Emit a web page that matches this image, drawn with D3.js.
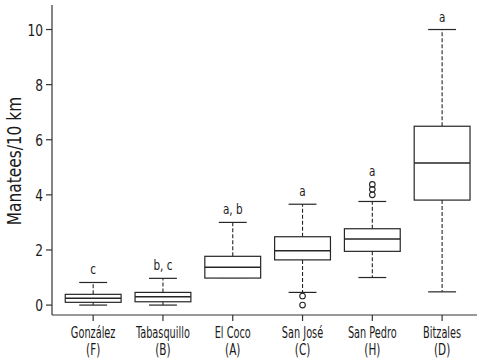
<!DOCTYPE html>
<html><head><meta charset="utf-8">
<script src="https://cdn.jsdelivr.net/npm/d3@7"></script>
<style>
body{margin:0;background:#fff;}
text{font-family:"DejaVu Sans Condensed","DejaVu Sans","Noto Sans",sans-serif;fill:#1a1a1a;}
</style></head>
<body><svg id="c" width="484" height="362"></svg>
<script>
const sites = ["González","Tabasquillo","El Coco","San José","San Pedro","Bitzales"];
const codes = ["(F)","(B)","(A)","(C)","(H)","(D)"];
const groups = ["c","b, c","a, b","a","a","a"];
const lowerWhisker = [0, 0, 1.0, 0.46, 1.0, 0.48];
const q1 = [0.10, 0.12, 0.98, 1.64, 1.95, 3.81];
const median = [0.25, 0.30, 1.37, 1.97, 2.40, 5.16];
const q3 = [0.39, 0.46, 1.77, 2.48, 2.77, 6.49];
const upperWhisker = [0.82, 0.97, 3.0, 3.66, 3.76, 10.0];
const outliers = [[], [], [], [0.33, 0.0], [4.0, 4.2, 4.38], []];
const yTicks = [0, 2, 4, 6, 8, 10];

const svg = d3.select("#c");
const x = d3.scaleLinear().domain([0.41, 6.5]).range([52, 477]);
const y = d3.scaleLinear().domain([-0.36, 10.89]).range([315, 5]);
const boxW = 0.4, capW = 0.2;
const stroke = "#262626";

function label(px, py, str, size, sx, anchor, rot) {
  return svg.append("text")
    .attr("transform", `translate(${px},${py})${rot ? " rotate(" + rot + ")" : ""} scale(${sx},1)`)
    .attr("text-anchor", anchor || "middle").attr("font-size", size).text(str);
}

// axes frame (L)
svg.append("line").attr("x1", x(0.41)).attr("x2", x(0.41)).attr("y1", y(10.89)).attr("y2", y(-0.36)).attr("stroke", "#333").attr("stroke-width", 1.2);
svg.append("line").attr("x1", x(0.41)).attr("x2", x(6.5)).attr("y1", y(-0.36)).attr("y2", y(-0.36)).attr("stroke", "#333").attr("stroke-width", 1.2);

// y ticks
yTicks.forEach(t => {
  svg.append("line").attr("x1", x(0.41) - 6).attr("x2", x(0.41)).attr("y1", y(t)).attr("y2", y(t)).attr("stroke", "#333").attr("stroke-width", 1.2);
  label(x(0.41) - 9, y(t) + 6, t, 16, 0.85, "end");
});

// y label
label(21, (y(10.89) + y(-0.36)) / 2 + 1, "Manatees/10 km", 19, 0.9, "middle", -90);

// x ticks and labels
sites.forEach((s, i) => {
  const cx = x(i + 1);
  svg.append("line").attr("x1", cx).attr("x2", cx).attr("y1", y(-0.36)).attr("y2", y(-0.36) + 6).attr("stroke", "#333").attr("stroke-width", 1.2);
  label(cx, 338, s, 15.5, 0.7);
  label(cx, 355, codes[i], 15.5, 0.75);
});

// boxes
sites.forEach((s, i) => {
  const p = i + 1;
  const g = svg.append("g");
  g.append("line").attr("x1", x(p)).attr("x2", x(p)).attr("y1", y(q3[i])).attr("y2", y(upperWhisker[i])).attr("stroke", stroke).attr("stroke-width", 1.1).attr("stroke-dasharray", "4,2");
  g.append("line").attr("x1", x(p)).attr("x2", x(p)).attr("y1", y(q1[i])).attr("y2", y(lowerWhisker[i])).attr("stroke", stroke).attr("stroke-width", 1.1).attr("stroke-dasharray", "4,2");
  g.append("line").attr("x1", x(p - capW)).attr("x2", x(p + capW)).attr("y1", y(upperWhisker[i])).attr("y2", y(upperWhisker[i])).attr("stroke", stroke).attr("stroke-width", 1.2);
  g.append("line").attr("x1", x(p - capW)).attr("x2", x(p + capW)).attr("y1", y(lowerWhisker[i])).attr("y2", y(lowerWhisker[i])).attr("stroke", stroke).attr("stroke-width", 1.2);
  g.append("rect").attr("x", x(p - boxW)).attr("width", x(p + boxW) - x(p - boxW)).attr("y", y(q3[i])).attr("height", y(q1[i]) - y(q3[i])).attr("fill", "#fff").attr("stroke", stroke).attr("stroke-width", 1.2);
  g.append("line").attr("x1", x(p - boxW)).attr("x2", x(p + boxW)).attr("y1", y(median[i])).attr("y2", y(median[i])).attr("stroke", stroke).attr("stroke-width", 1.5);
  outliers[i].forEach(o => {
    g.append("circle").attr("cx", x(p)).attr("cy", y(o)).attr("r", 2.8).attr("fill", "none").attr("stroke", stroke).attr("stroke-width", 1.1);
  });
  const top = Math.max(upperWhisker[i], ...outliers[i]);
  label(x(p), y(top) - 8, groups[i], 14.5, 0.8);
});
</script></body></html>
